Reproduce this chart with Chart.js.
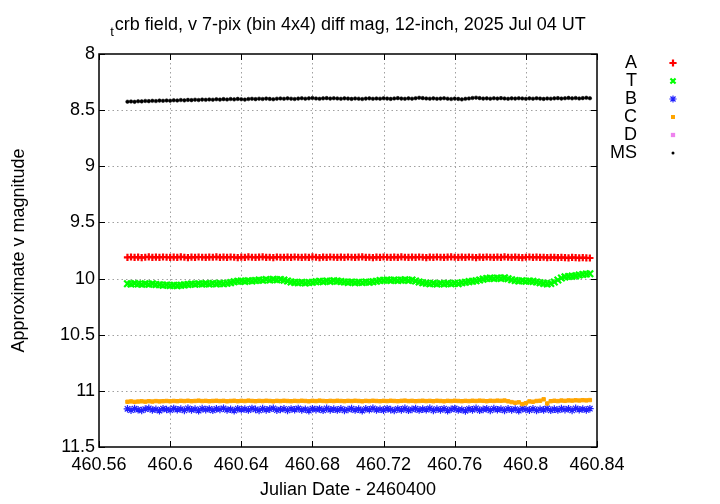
<!DOCTYPE html>
<html><head><meta charset="utf-8">
<script src="https://cdn.jsdelivr.net/npm/chart.js@4"></script>
<style>html,body{margin:0;padding:0;background:#fff}#c{display:block}</style>
</head><body>
<canvas id="c" width="720" height="504"></canvas>
<script>
const jd = [
460.576,460.578,460.580,460.582,460.584,460.586,460.588,460.590,460.592,460.594,460.596,460.598,
460.600,460.602,460.604,460.606,460.608,460.610,460.612,460.614,460.616,460.618,460.620,460.622,
460.624,460.626,460.628,460.630,460.632,460.634,460.636,460.638,460.640,460.642,460.644,460.646,
460.648,460.650,460.652,460.654,460.656,460.658,460.660,460.662,460.664,460.666,460.668,460.670,
460.672,460.674,460.676,460.678,460.680,460.682,460.684,460.686,460.688,460.690,460.692,460.694,
460.696,460.698,460.700,460.702,460.704,460.706,460.708,460.710,460.712,460.714,460.716,460.718,
460.720,460.722,460.724,460.726,460.728,460.730,460.732,460.734,460.736,460.738,460.740,460.742,
460.744,460.746,460.748,460.750,460.752,460.754,460.756,460.758,460.760,460.762,460.764,460.766,
460.768,460.770,460.772,460.774,460.776,460.778,460.780,460.782,460.784,460.786,460.788,460.790,
460.792,460.794,460.796,460.798,460.800,460.802,460.804,460.806,460.808,460.810,460.812,460.814,
460.816,460.818,460.820,460.822,460.824,460.826,460.828,460.830,460.832,460.834,460.836];

const magA = [
9.811,9.808,9.812,9.809,9.813,9.810,9.807,9.811,9.809,9.812,9.808,9.810,
9.812,9.809,9.811,9.807,9.810,9.813,9.809,9.811,9.808,9.810,9.812,9.809,
9.810,9.807,9.811,9.809,9.812,9.808,9.810,9.813,9.809,9.811,9.806,9.810,
9.812,9.809,9.807,9.811,9.810,9.813,9.808,9.810,9.812,9.809,9.811,9.808,
9.810,9.812,9.809,9.811,9.807,9.810,9.813,9.809,9.811,9.808,9.810,9.812,
9.809,9.811,9.808,9.810,9.812,9.809,9.807,9.811,9.810,9.813,9.809,9.811,
9.808,9.810,9.812,9.809,9.811,9.807,9.810,9.812,9.809,9.811,9.808,9.810,
9.813,9.809,9.811,9.808,9.810,9.812,9.809,9.806,9.810,9.812,9.809,9.811,
9.808,9.810,9.813,9.809,9.811,9.808,9.810,9.812,9.809,9.811,9.807,9.810,
9.812,9.809,9.811,9.813,9.810,9.808,9.811,9.809,9.812,9.810,9.813,9.811,
9.812,9.814,9.811,9.813,9.815,9.812,9.814,9.816,9.813,9.815,9.817];

const magT = [
10.046,10.049,10.044,10.048,10.051,10.046,10.050,10.047,10.052,10.055,10.060,10.058,
10.062,10.059,10.063,10.060,10.056,10.052,10.048,10.051,10.046,10.049,10.045,10.048,
10.044,10.047,10.043,10.046,10.042,10.036,10.028,10.024,10.021,10.025,10.019,10.022,
10.018,10.012,10.015,10.009,10.012,10.007,10.011,10.009,10.014,10.022,10.030,10.034,
10.037,10.034,10.039,10.035,10.032,10.028,10.024,10.027,10.021,10.025,10.019,10.023,
10.026,10.030,10.034,10.031,10.036,10.032,10.035,10.030,10.033,10.028,10.024,10.018,
10.015,10.012,10.016,10.013,10.018,10.014,10.011,10.016,10.013,10.022,10.030,10.038,
10.042,10.046,10.043,10.048,10.044,10.047,10.043,10.046,10.042,10.045,10.038,10.032,
10.027,10.024,10.020,10.013,10.005,9.999,9.996,10.000,9.995,9.998,9.994,10.002,
10.010,10.018,10.022,10.019,10.024,10.021,10.025,10.030,10.038,10.043,10.047,10.044,
10.030,10.012,9.995,9.985,9.982,9.978,9.976,9.968,9.963,9.960,9.957];

const magB = [
11.160,11.172,11.158,11.168,11.175,11.162,11.155,11.170,11.164,11.177,11.159,11.166,
11.171,11.157,11.168,11.162,11.174,11.156,11.169,11.163,11.176,11.158,11.167,11.161,
11.173,11.160,11.166,11.155,11.170,11.164,11.177,11.159,11.168,11.162,11.171,11.157,
11.165,11.174,11.158,11.169,11.163,11.155,11.172,11.166,11.160,11.175,11.161,11.168,
11.157,11.170,11.164,11.176,11.159,11.167,11.161,11.173,11.156,11.169,11.163,11.171,
11.160,11.174,11.166,11.158,11.171,11.163,11.177,11.160,11.168,11.155,11.170,11.164,
11.172,11.159,11.167,11.175,11.161,11.169,11.156,11.173,11.165,11.158,11.171,11.163,
11.168,11.156,11.174,11.162,11.170,11.159,11.176,11.164,11.157,11.171,11.166,11.178,
11.161,11.169,11.155,11.173,11.165,11.160,11.174,11.158,11.168,11.163,11.175,11.160,
11.170,11.162,11.177,11.158,11.166,11.172,11.160,11.175,11.164,11.169,11.157,11.173,
11.163,11.171,11.158,11.167,11.160,11.174,11.156,11.168,11.162,11.170,11.159];

const magC = [
11.097,11.094,11.098,11.095,11.093,11.096,11.092,11.095,11.091,11.094,11.092,11.090,
11.093,11.090,11.092,11.089,11.091,11.088,11.092,11.090,11.087,11.091,11.089,11.092,
11.090,11.088,11.091,11.089,11.093,11.090,11.088,11.092,11.089,11.091,11.087,11.090,
11.092,11.089,11.091,11.088,11.090,11.093,11.089,11.091,11.088,11.090,11.092,11.089,
11.091,11.088,11.090,11.093,11.089,11.091,11.087,11.090,11.092,11.089,11.091,11.088,
11.090,11.092,11.089,11.091,11.088,11.090,11.093,11.089,11.091,11.088,11.090,11.092,
11.089,11.091,11.088,11.090,11.092,11.089,11.087,11.091,11.089,11.092,11.090,11.088,
11.091,11.089,11.092,11.088,11.090,11.093,11.089,11.091,11.088,11.090,11.092,11.089,
11.091,11.088,11.090,11.087,11.089,11.092,11.088,11.090,11.087,11.089,11.086,11.093,
11.100,11.106,11.102,11.118,11.110,11.094,11.097,11.090,11.088,11.075,11.112,11.092,
11.088,11.091,11.086,11.089,11.085,11.087,11.084,11.086,11.083,11.085,11.082];

const magD = [];

const magMS = [
8.425,8.423,8.426,8.421,8.422,8.418,8.420,8.417,8.419,8.415,8.417,8.414,
8.416,8.412,8.414,8.410,8.413,8.409,8.411,8.407,8.410,8.406,8.408,8.405,
8.407,8.403,8.406,8.402,8.405,8.401,8.404,8.400,8.403,8.406,8.401,8.399,
8.402,8.398,8.401,8.397,8.400,8.403,8.398,8.396,8.399,8.395,8.398,8.401,
8.397,8.394,8.398,8.395,8.392,8.396,8.399,8.395,8.393,8.397,8.394,8.396,
8.399,8.395,8.397,8.400,8.396,8.398,8.401,8.397,8.395,8.399,8.396,8.398,
8.394,8.397,8.400,8.396,8.393,8.397,8.399,8.395,8.398,8.394,8.390,8.393,
8.396,8.398,8.395,8.399,8.397,8.394,8.398,8.401,8.397,8.400,8.404,8.399,
8.396,8.392,8.389,8.393,8.397,8.395,8.398,8.394,8.397,8.393,8.396,8.399,
8.395,8.397,8.394,8.396,8.399,8.395,8.398,8.394,8.397,8.400,8.396,8.398,
8.395,8.393,8.397,8.394,8.391,8.395,8.392,8.396,8.393,8.390,8.394];

const xTicks = [460.56,460.6,460.64,460.68,460.72,460.76,460.8,460.84];
const yTicks = [8,8.5,9,9.5,10,10.5,11,11.5];
const seriesNames = ['A','T','B','C','D','MS'];
const titleSub = 't';
const titleMain = 'crb field, v 7-pix (bin 4x4) diff mag, 12-inch, 2025 Jul 04 UT';
const xTitle = 'Julian Date - 2460400';
const yTitle = 'Approximate v magnitude';

const FONT = '"Liberation Sans", Arial, Helvetica, sans-serif';
const fmt = v => String(Math.round(v * 1000) / 1000);
const pts = arr => arr.map((v, i) => ({x: jd[i], y: v}));

const styles = [
  {c:'#ff0000', ps:'cross',    r:3.6, bw:2.2},
  {c:'#00ff00', ps:'crossRot', r:4.6, bw:2.2},
  {c:'#2020ff', ps:'star',     r:3.8, bw:1.2},
  {c:'#ffa500', ps:'rect',     r:2.4, bw:1},
  {c:'#ee82ee', ps:'rect',     r:2.6, bw:1},
  {c:'#000000', ps:'circle',   r:1.8, bw:0.5}
];
const seriesData = [magA, magT, magB, magC, magD, magMS];

const datasets = seriesNames.map((n, k) => ({
  label: n,
  data: pts(seriesData[k]),
  pointStyle: styles[k].ps,
  pointRadius: styles[k].r,
  pointBorderWidth: styles[k].bw,
  borderColor: styles[k].c,
  backgroundColor: styles[k].c,
  showLine: false,
  order: 6 - k
}));

function drawMarker(ctx, k, cx, cy) {
  const s = styles[k];
  const r = Math.min(s.r, 3.6);
  ctx.save();
  ctx.strokeStyle = s.c; ctx.fillStyle = s.c; ctx.lineWidth = s.bw;
  ctx.beginPath();
  if (s.ps === 'cross' || s.ps === 'star') {
    ctx.moveTo(cx - r, cy); ctx.lineTo(cx + r, cy);
    ctx.moveTo(cx, cy - r); ctx.lineTo(cx, cy + r);
  }
  if (s.ps === 'crossRot' || s.ps === 'star') {
    const d = r * Math.SQRT1_2;
    ctx.moveTo(cx - d, cy - d); ctx.lineTo(cx + d, cy + d);
    ctx.moveTo(cx - d, cy + d); ctx.lineTo(cx + d, cy - d);
  }
  ctx.stroke();
  if (s.ps === 'rect') {
    const h = s.r * Math.SQRT1_2 + 0.3;
    ctx.fillRect(cx - h, cy - h, 2 * h, 2 * h);
  }
  if (s.ps === 'circle') {
    ctx.beginPath(); ctx.arc(cx, cy, 1.5, 0, Math.PI * 2); ctx.fill();
  }
  ctx.restore();
}

const deco = {
  id: 'deco',
  beforeDatasetsDraw(chart) {
    const {ctx, chartArea: a, scales: {x, y}} = chart;
    ctx.save();
    ctx.strokeStyle = '#a0a0a0'; ctx.lineWidth = 1; ctx.setLineDash([1.5, 3]);
    xTicks.forEach(v => {
      if (v <= x.min || v >= x.max) return;
      const p = Math.round(x.getPixelForValue(v)) + 0.5;
      ctx.beginPath(); ctx.moveTo(p, a.top); ctx.lineTo(p, a.bottom); ctx.stroke();
    });
    yTicks.forEach(v => {
      if (v <= y.min || v >= y.max) return;
      const p = Math.round(y.getPixelForValue(v)) + 0.5;
      ctx.beginPath(); ctx.moveTo(a.left, p); ctx.lineTo(a.right, p); ctx.stroke();
    });
    ctx.restore();
  },
  afterDatasetsDraw(chart) {
    const {ctx, chartArea: a, scales: {x, y}} = chart;
    ctx.save();
    ctx.strokeStyle = '#000'; ctx.lineWidth = 1; ctx.setLineDash([]);
    const tl = 6;
    ctx.beginPath();
    xTicks.forEach(v => {
      const p = Math.round(x.getPixelForValue(v)) + 0.5;
      ctx.moveTo(p, a.bottom); ctx.lineTo(p, a.bottom - tl);
      ctx.moveTo(p, a.top); ctx.lineTo(p, a.top + tl);
    });
    yTicks.forEach(v => {
      const p = Math.round(y.getPixelForValue(v)) + 0.5;
      ctx.moveTo(a.left, p); ctx.lineTo(a.left + tl, p);
      ctx.moveTo(a.right, p); ctx.lineTo(a.right - tl, p);
    });
    ctx.stroke();
    ctx.lineWidth = 1.5;
    ctx.strokeRect(a.left, a.top, a.right - a.left, a.bottom - a.top);
    ctx.restore();
  },
  afterDraw(chart) {
    const {ctx, chartArea: a} = chart;
    ctx.save();
    ctx.fillStyle = '#000';
    ctx.font = '18px ' + FONT;
    const wMain = ctx.measureText(titleMain).width;
    ctx.font = '13px ' + FONT;
    const wSub = ctx.measureText(titleSub).width;
    const cx = (a.left + a.right) / 2;
    let sx = cx - (wMain + wSub + 1) / 2;
    ctx.textAlign = 'left'; ctx.textBaseline = 'alphabetic';
    ctx.fillText(titleSub, sx, 36);
    ctx.font = '18px ' + FONT;
    ctx.fillText(titleMain, sx + wSub + 1, 30);
    ctx.textAlign = 'center'; ctx.textBaseline = 'middle';
    ctx.fillText(xTitle, cx, 490);
    ctx.save();
    ctx.translate(19, (a.top + a.bottom) / 2);
    ctx.rotate(-Math.PI / 2);
    ctx.fillText(yTitle, 0, 0);
    ctx.restore();
    seriesNames.forEach((n, k) => {
      const yy = 63 + k * 18;
      ctx.textAlign = 'right'; ctx.textBaseline = 'middle';
      ctx.fillStyle = '#000';
      ctx.fillText(n, 637, yy);
      drawMarker(ctx, k, 673, yy);
    });
    ctx.restore();
  }
};

Chart.defaults.font.family = FONT;
Chart.defaults.font.size = 18;
Chart.defaults.color = '#000';

new Chart(document.getElementById('c'), {
  type: 'scatter',
  data: {datasets},
  options: {
    responsive: false,
    animation: false,
    devicePixelRatio: 1,
    layout: {padding: {top: 54, right: 123, bottom: 0, left: 0}},
    plugins: {legend: {display: false}, tooltip: {enabled: false}, title: {display: false}},
    scales: {
      x: {
        type: 'linear', min: 460.56, max: 460.84,
        afterBuildTicks: s => { s.ticks = xTicks.map(v => ({value: v})); },
        afterFit: s => { s.height = 57; },
        ticks: {callback: v => fmt(v), padding: 7, maxRotation: 0, autoSkip: false, color: '#000'},
        grid: {display: false, drawTicks: false},
        border: {display: false}
      },
      y: {
        type: 'linear', min: 8, max: 11.5, reverse: true,
        afterBuildTicks: s => { s.ticks = yTicks.map(v => ({value: v})); },
        afterFit: s => { s.width = 99; },
        ticks: {callback: v => fmt(v), padding: 4, autoSkip: false, color: '#000'},
        grid: {display: false, drawTicks: false},
        border: {display: false}
      }
    }
  },
  plugins: [deco]
});
</script>
</body></html>
